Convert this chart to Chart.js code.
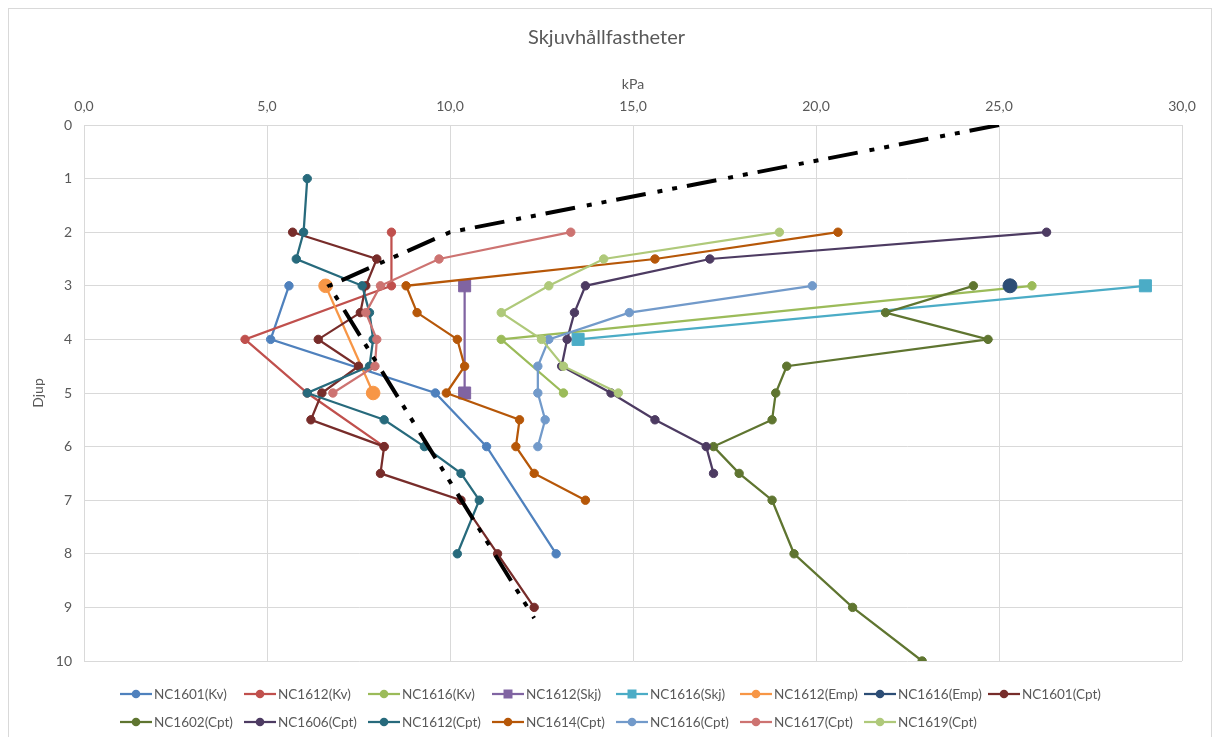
<!DOCTYPE html>
<html><head><meta charset="utf-8">
<script src="https://cdn.jsdelivr.net/npm/chart.js@4.4.1/dist/chart.umd.min.js"></script>
<style>
html,body{margin:0;padding:0;background:#fff;overflow:hidden;width:1213px;height:737px;}
#frame{position:absolute;left:8px;top:8px;width:1204px;height:760px;border:1px solid #d9d9d9;box-sizing:border-box;}
#c{position:absolute;left:0;top:0;}
</style></head><body>
<div id="frame"></div>
<canvas id="c" width="1213" height="737"></canvas>
<script>
// ---------- data ----------
const chartTitle = 'Skjuvhållfastheter';
const xAxisTitle = 'kPa';
const yAxisTitle = 'Djup';
const xTickValues = [0, 5, 10, 15, 20, 25, 30];
const yTickValues = [0, 1, 2, 3, 4, 5, 6, 7, 8, 9, 10];

const seriesNames = ['NC1601(Kv)','NC1612(Kv)','NC1616(Kv)','NC1612(Skj)','NC1616(Skj)','NC1612(Emp)','NC1616(Emp)','NC1601(Cpt)',
                     'NC1602(Cpt)','NC1606(Cpt)','NC1612(Cpt)','NC1614(Cpt)','NC1616(Cpt)','NC1617(Cpt)','NC1619(Cpt)'];

const depth_NC1601_Kv = [3, 4, 5, 6, 8];
const kpa_NC1601_Kv   = [5.6, 5.1, 9.6, 11.0, 12.9];
const depth_NC1612_Kv = [2, 3, 4, 5, 6];
const kpa_NC1612_Kv   = [8.4, 8.4, 4.4, 6.1, 8.2];
const depth_NC1616_Kv = [3, 4, 5];
const kpa_NC1616_Kv   = [25.9, 11.4, 13.1];
const depth_NC1612_Skj = [3, 5];
const kpa_NC1612_Skj   = [10.4, 10.4];
const depth_NC1616_Skj = [3, 4];
const kpa_NC1616_Skj   = [29.0, 13.5];
const depth_NC1612_Emp = [3, 5];
const kpa_NC1612_Emp   = [6.6, 7.9];
const depth_NC1616_Emp = [3];
const kpa_NC1616_Emp   = [25.3];
const depth_NC1601_Cpt = [2, 2.5, 3, 3.5, 4, 4.5, 5, 5.5, 6, 6.5, 7, 8, 9];
const kpa_NC1601_Cpt   = [5.7, 8.0, 7.7, 7.55, 6.4, 7.5, 6.5, 6.2, 8.2, 8.1, 10.3, 11.3, 12.3];
const depth_NC1602_Cpt = [3, 3.5, 4, 4.5, 5, 5.5, 6, 6.5, 7, 8, 9, 10];
const kpa_NC1602_Cpt   = [24.3, 21.9, 24.7, 19.2, 18.9, 18.8, 17.2, 17.9, 18.8, 19.4, 21.0, 22.9];
const depth_NC1606_Cpt = [2, 2.5, 3, 3.5, 4, 4.5, 5, 5.5, 6, 6.5];
const kpa_NC1606_Cpt   = [26.3, 17.1, 13.7, 13.4, 13.2, 13.05, 14.4, 15.6, 17.0, 17.2];
const depth_NC1612_Cpt = [1, 2, 2.5, 3, 3.5, 4, 4.5, 5, 5.5, 6, 6.5, 7, 8];
const kpa_NC1612_Cpt   = [6.1, 6.0, 5.8, 7.6, 7.8, 7.9, 7.8, 6.1, 8.2, 9.3, 10.3, 10.8, 10.2];
const depth_NC1614_Cpt = [2, 2.5, 3, 3.5, 4, 4.5, 5, 5.5, 6, 6.5, 7];
const kpa_NC1614_Cpt   = [20.6, 15.6, 8.8, 9.1, 10.2, 10.4, 9.9, 11.9, 11.8, 12.3, 13.7];
const depth_NC1616_Cpt = [3, 3.5, 4, 4.5, 5, 5.5, 6];
const kpa_NC1616_Cpt   = [19.9, 14.9, 12.7, 12.4, 12.4, 12.6, 12.4];
const depth_NC1617_Cpt = [2, 2.5, 3, 3.5, 4, 4.5, 5];
const kpa_NC1617_Cpt   = [13.3, 9.7, 8.1, 7.7, 8.0, 7.95, 6.8];
const depth_NC1619_Cpt = [2, 2.5, 3, 3.5, 4, 4.5, 5];
const kpa_NC1619_Cpt   = [19.0, 14.2, 12.7, 11.4, 12.5, 13.1, 14.6];
const depth_reference  = [0, 2, 3, 9.2];
const kpa_reference    = [25.0, 10.0, 6.7, 12.3];

// ---------- styling ----------
const GREY = '#595959';
const GRID = '#d9d9d9';
const FONT = 'Lato, Calibri, "Open Sans", sans-serif';

function pts(xs, ys) { return xs.map((x, i) => ({ x: x, y: ys[i] })); }

function series(name, xs, ys, color, opts) {
  opts = opts || {};
  return Object.assign({
    label: name,
    data: pts(xs, ys),
    showLine: true,
    borderColor: color,
    backgroundColor: color,
    pointBackgroundColor: color,
    pointBorderColor: color,
    borderWidth: 2.25,
    pointRadius: 4.2,
    pointHoverRadius: 4.2,
    pointBorderWidth: 1,
    pointStyle: 'circle',
    tension: 0,
    fill: false
  }, opts);
}

const datasets = [
  series(seriesNames[0], kpa_NC1601_Kv, depth_NC1601_Kv, '#4F81BD'),
  series(seriesNames[1], kpa_NC1612_Kv, depth_NC1612_Kv, '#C0504D'),
  series(seriesNames[2], kpa_NC1616_Kv, depth_NC1616_Kv, '#9BBB59'),
  series(seriesNames[3], kpa_NC1612_Skj, depth_NC1612_Skj, '#8064A2', { pointStyle: 'rect', pointRadius: 8.5, pointHoverRadius: 8.5 }),
  series(seriesNames[4], kpa_NC1616_Skj, depth_NC1616_Skj, '#4BACC6', { pointStyle: 'rect', pointRadius: 8.5, pointHoverRadius: 8.5 }),
  series(seriesNames[5], kpa_NC1612_Emp, depth_NC1612_Emp, '#F79646', { pointRadius: 6.8, pointHoverRadius: 6.8 }),
  series(seriesNames[6], kpa_NC1616_Emp, depth_NC1616_Emp, '#2C4D75', { pointRadius: 7, pointHoverRadius: 7 }),
  series(seriesNames[7], kpa_NC1601_Cpt, depth_NC1601_Cpt, '#772C2A'),
  series(seriesNames[8], kpa_NC1602_Cpt, depth_NC1602_Cpt, '#5F7530'),
  series(seriesNames[9], kpa_NC1606_Cpt, depth_NC1606_Cpt, '#4D3B62'),
  series(seriesNames[10], kpa_NC1612_Cpt, depth_NC1612_Cpt, '#276A7C'),
  series(seriesNames[11], kpa_NC1614_Cpt, depth_NC1614_Cpt, '#B65708'),
  series(seriesNames[12], kpa_NC1616_Cpt, depth_NC1616_Cpt, '#729ACA'),
  series(seriesNames[13], kpa_NC1617_Cpt, depth_NC1617_Cpt, '#CD7371'),
  series(seriesNames[14], kpa_NC1619_Cpt, depth_NC1619_Cpt, '#AFC97A'),
  series('', kpa_reference, depth_reference, '#000000', {
    borderWidth: 4, pointRadius: 0, pointHoverRadius: 0,
    borderDash: [30, 10, 5, 10, 5, 12], borderCapStyle: 'butt', hideInLegend: true
  })
];
// later series on top, as in the original
datasets.forEach((d, i) => { d.order = datasets.length - i; });

// ---------- custom legend (Excel style, fixed columns) ----------
const legendPlugin = {
  id: 'excelLegend',
  afterDraw(chart) {
    const ctx = chart.ctx;
    const items = chart.data.datasets.filter(d => !d.hideInLegend);
    const x0 = 120, step = 124, rowY = [694, 722], perRow = 8;
    ctx.save();
    ctx.font = '13.5px ' + FONT;
    ctx.textBaseline = 'middle';
    ctx.textAlign = 'left';
    items.forEach((d, i) => {
      const row = Math.floor(i / perRow), col = i % perRow;
      const x = x0 + col * step, y = rowY[row];
      ctx.strokeStyle = d.borderColor;
      ctx.lineWidth = 2.25;
      ctx.setLineDash([]);
      ctx.beginPath(); ctx.moveTo(x, y); ctx.lineTo(x + 32, y); ctx.stroke();
      ctx.fillStyle = d.borderColor;
      ctx.beginPath();
      if (d.pointStyle === 'rect') {
        ctx.rect(x + 16 - 4.5, y - 4.5, 9, 9);
      } else {
        ctx.arc(x + 16, y, 4.3, 0, Math.PI * 2);
      }
      ctx.fill();
      ctx.fillStyle = GREY;
      ctx.fillText(d.label, x + 34, y + 0.5);
    });
    ctx.restore();
  }
};

Chart.defaults.font.family = FONT;
Chart.defaults.color = GREY;

new Chart(document.getElementById('c'), {
  type: 'scatter',
  data: { datasets: datasets },
  plugins: [legendPlugin],
  options: {
    responsive: false,
    animation: false,
    events: [],
    layout: { padding: { top: 0, left: 0, right: 0, bottom: 76 } },
    plugins: {
      legend: { display: false },
      tooltip: { enabled: false },
      title: {
        display: true, text: chartTitle, color: GREY,
        font: { family: FONT, size: 20, weight: 'normal' },
        padding: { top: 26, bottom: 0 }
      }
    },
    scales: {
      x: {
        type: 'linear', position: 'top', min: 0, max: 30,
        afterBuildTicks: s => { s.ticks = xTickValues.map(v => ({ value: v })); },
        ticks: {
          color: GREY, font: { size: 14 }, padding: 10,
          callback: v => v.toFixed(1).replace('.', ',')
        },
        grid: { color: GRID, lineWidth: 1, drawTicks: false },
        border: { display: true, color: GRID },
        title: { display: true, text: xAxisTitle, color: GREY, font: { size: 14 }, padding: { top: 26, bottom: 0 } },
        afterFit: s => { s.height = 75; }
      },
      y: {
        type: 'linear', reverse: true, min: 0, max: 10,
        afterBuildTicks: s => { s.ticks = yTickValues.map(v => ({ value: v })); },
        ticks: { color: GREY, font: { size: 14 }, padding: 12, callback: v => String(v) },
        grid: { color: GRID, lineWidth: 1, drawTicks: false },
        border: { display: true, color: GRID },
        title: { display: true, text: yAxisTitle, color: GREY, font: { size: 14 }, padding: { top: 30, bottom: 0 } },
        afterFit: s => { s.width = 84; }
      },
      yRightMargin: {
        type: 'linear', position: 'right', min: 0, max: 10, display: true,
        ticks: { display: false },
        grid: { display: false, drawTicks: false },
        border: { display: false },
        title: { display: false },
        afterFit: s => { s.width = 31; }
      }
    }
  }
});
</script>
</body></html>
